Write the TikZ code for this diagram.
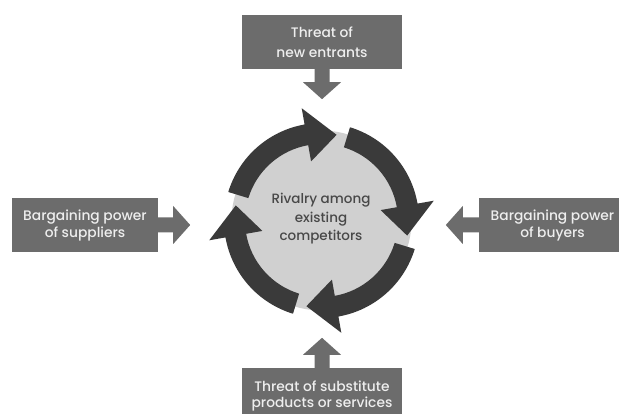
\documentclass[tikz,border=0pt]{standalone}
\usepackage{fontspec}
\setmainfont{Poppins}[BoldFont={Poppins Medium}]
\begin{document}
\begin{tikzpicture}[x=1pt,y=1pt,
  boxcol/.style={fill=boxgray,draw=none},
  forcebox/.style={boxcol,text=boxtext,minimum height=54pt,inner sep=0pt,align=center,
     font=\fontsize{13.8}{17}\selectfont\bfseries},
  ringtext/.style={text=centertext,align=center,font=\fontsize{13.5}{18.5}\selectfont\bfseries}]
\definecolor{boxgray}{RGB}{108,108,108}
\definecolor{boxtext}{RGB}{238,238,238}
\definecolor{ringdark}{RGB}{58,58,58}
\definecolor{disk}{RGB}{208,208,208}
\definecolor{centertext}{RGB}{72,72,72}
\useasboundingbox (0,0) rectangle (619,413);
\clip (0,0) rectangle (619,413);
% block arrow: start, rotation, length
\newcommand\blockarr[3]{%
  \fill[boxgray,shift={(#1)},rotate=#2] (0,-7.5) -- (#3-17,-7.5) -- (#3-17,-19) -- (#3,0)
     -- (#3-17,19) -- (#3-17,7.5) -- (0,7.5) -- cycle;}
% ring arrow: tail angle, base angle, tip angle
\newcommand\ringarr[3]{%
  \fill[ringdark,shift={(ctr)}] (#1:97.5) arc[start angle=#1,end angle=#2,radius=97.5]
     -- (#2:114) -- (#3:87) -- (#2:60) -- (#2:76.5)
     arc[start angle=#2,end angle=#1,radius=76.5] -- cycle;}
\coordinate (ctr) at (321.5,192.5);
\fill[disk] (ctr) circle[radius=90];
\ringarr{163}{100}{80}
\ringarr{73}{10}{-10}
\ringarr{-17}{-80}{-100}
\ringarr{-107}{-170}{-190}
\node[ringtext] (riv) at (321,194) {Rivalry among\\existing\\competitors};
\node[forcebox,minimum width=160pt,font=\fontsize{13.8}{19.5}\selectfont\bfseries] (top) at (322,371) {Threat of\\new entrants};
\node[forcebox,minimum width=146pt] (sup) at (85,188) {Bargaining power\\of suppliers};
\node[forcebox,minimum width=147pt] (buy) at (552.5,188) {Bargaining power\\of buyers};
\node[forcebox,minimum width=160pt,minimum height=56pt,font=\fontsize{13.8}{16}\selectfont\bfseries] (sub) at (322,17) {Threat of substitute\\products or services};
\blockarr{top.south}{-90}{30}
\blockarr{sup.east}{0}{32}
\blockarr{buy.west}{180}{33}
\blockarr{sub.north}{90}{30}
\end{tikzpicture}
\end{document}
